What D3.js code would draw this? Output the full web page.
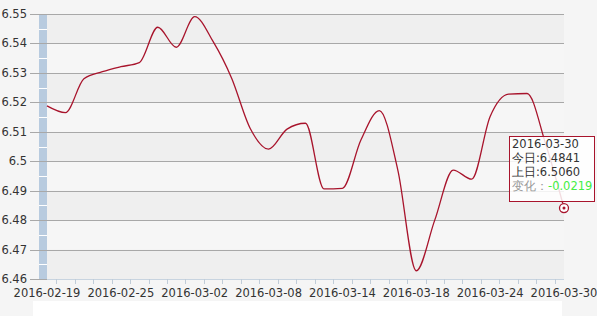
<!DOCTYPE html>
<html>
<head>
<meta charset="utf-8">
<script src="https://cdn.jsdelivr.net/npm/d3@7"></script>
<style>
body { margin: 0; background: #f5f5f5; }
svg { display: block; font-family: "DejaVu Sans", Verdana, sans-serif; }
.tick-label { font-size: 11.5px; fill: #333; }
</style>
</head>
<body>
<svg width="597" height="316"></svg>
<script>
// Dates (trading days) and rates
var dates = ['2016-02-19','2016-02-22','2016-02-23','2016-02-24','2016-02-25','2016-02-26','2016-02-29',
	'2016-03-01','2016-03-02','2016-03-03','2016-03-04','2016-03-07','2016-03-08','2016-03-09','2016-03-10',
	'2016-03-11','2016-03-14','2016-03-15','2016-03-16','2016-03-17','2016-03-18','2016-03-21','2016-03-22',
	'2016-03-23','2016-03-24','2016-03-25','2016-03-28','2016-03-29','2016-03-30'];
var rates = [6.5188, 6.5165, 6.5280, 6.5304, 6.5321, 6.5335, 6.5455,
	6.5387, 6.5491, 6.5406, 6.5282, 6.5112, 6.5041, 6.5109, 6.5129,
	6.4906, 6.4908, 6.5072, 6.5172, 6.4970, 6.4628, 6.4800, 6.4970,
	6.4939, 6.5152, 6.5228, 6.5230, 6.5060, 6.4841];
var xLabels = ['2016-02-19','2016-02-25','2016-03-02','2016-03-08','2016-03-14','2016-03-18','2016-03-24','2016-03-30'];
var yTicks = [6.46, 6.47, 6.48, 6.49, 6.5, 6.51, 6.52, 6.53, 6.54, 6.55];
var tipLines = ['2016-03-30', '今日:6.4841', '上日:6.5060'];
var tipChange = '-0.0219';

var svg = d3.select('svg');
//Plot area edges.
var pLeft = 47, pRight = 564, pTop = 14, pBottom = 279;

var x = d3.scalePoint().domain(dates).range([pLeft, pRight]);
var y = d3.scaleLinear().domain([6.46, 6.55]).range([pBottom, pTop]);
var step = x.step();

//White strip under the chart.
svg.append('rect').attr('x', 33).attr('y', 301).attr('width', 529).attr('height', 15).attr('fill', '#fff');

//Alternating bands.
for (var i = 0; i < yTicks.length - 1; i++) {
	svg.append('rect')
		.attr('x', pLeft).attr('width', pRight - pLeft)
		.attr('y', y(yTicks[i + 1])).attr('height', y(yTicks[i]) - y(yTicks[i + 1]))
		.attr('fill', (yTicks.length - 2 - i) % 2 === 0 ? '#efefef' : '#f6f6f6');
}

//Blue bar on the left with white half steps.
svg.append('rect').attr('x', 39).attr('y', pTop).attr('width', 8).attr('height', pBottom - pTop).attr('fill', '#b8cbdf');
var halfs = d3.range(0, yTicks.length - 1).map(function(i) { return yTicks[i] + 0.005; });
svg.selectAll('.half').data(halfs).enter().append('line')
	.attr('x1', 39).attr('x2', 47)
	.attr('y1', function(d) { return Math.round(y(d)) + 0.5; })
	.attr('y2', function(d) { return Math.round(y(d)) + 0.5; })
	.attr('stroke', '#fff');

//Grid lines and y labels.
svg.selectAll('.grid').data(yTicks).enter().append('line')
	.attr('x1', 30).attr('x2', pRight)
	.attr('y1', function(d) { return Math.round(y(d)) + 0.5; })
	.attr('y2', function(d) { return Math.round(y(d)) + 0.5; })
	.attr('stroke', '#a8a8a8');
svg.selectAll('.ylab').data(yTicks).enter().append('text')
	.attr('class', 'tick-label')
	.attr('x', 27).attr('y', function(d) { return y(d) + 4; })
	.attr('text-anchor', 'end')
	.text(function(d) { return d3.format('')(+d.toFixed(2)); });

//X axis: ticks sit between the days.
svg.append('line').attr('x1', pLeft).attr('x2', pRight).attr('y1', pBottom + 0.5).attr('y2', pBottom + 0.5).attr('stroke', '#c8d4e0');
svg.selectAll('.xtick').data(dates.slice(1)).enter().append('line')
	.attr('x1', function(d) { return Math.round(x(d) - step / 2) + 0.5; })
	.attr('x2', function(d) { return Math.round(x(d) - step / 2) + 0.5; })
	.attr('y1', pBottom).attr('y2', pBottom + 5)
	.attr('stroke', '#c0ccd8');
svg.selectAll('.xlab').data(xLabels).enter().append('text')
	.attr('class', 'tick-label')
	.attr('x', function(d) { return x(d); }).attr('y', 297)
	.attr('text-anchor', 'middle')
	.text(function(d) { return d; });

//Line.
var line = d3.line()
	.x(function(d, i) { return x(dates[i]); })
	.y(function(d) { return y(d); })
	.curve(d3.curveMonotoneX);
svg.append('path').datum(rates)
	.attr('d', line)
	.attr('fill', 'none')
	.attr('stroke', '#a8142c')
	.attr('stroke-width', 1.3);

//Tooltip.
var tip = svg.append('g');
tip.append('rect').attr('x', 509.5).attr('y', 136.5).attr('width', 85).attr('height', 65)
	.attr('fill', 'rgba(255,255,255,0.85)').attr('stroke', '#a8142c');
tip.selectAll('.tl').data(tipLines).enter().append('text')
	.attr('x', 512).attr('y', function(d, i) { return 148 + i * 14; })
	.attr('font-size', '11.5px').attr('fill', '#333')
	.text(function(d) { return d; });
var chg = tip.append('text').attr('x', 512).attr('y', 190).attr('font-size', '11.5px');
chg.append('tspan').attr('fill', '#999').text('变化：');
chg.append('tspan').attr('fill', '#44ee44').text(tipChange);

//Marker on last point.
var lx = x(dates[dates.length - 1]), ly = y(rates[rates.length - 1]);
svg.append('circle').attr('cx', lx).attr('cy', ly).attr('r', 4.5).attr('fill', '#fff').attr('stroke', '#a8142c').attr('stroke-width', 1.3);
svg.append('circle').attr('cx', lx).attr('cy', ly).attr('r', 1.5).attr('fill', '#a8142c');
</script>
</body>
</html>
